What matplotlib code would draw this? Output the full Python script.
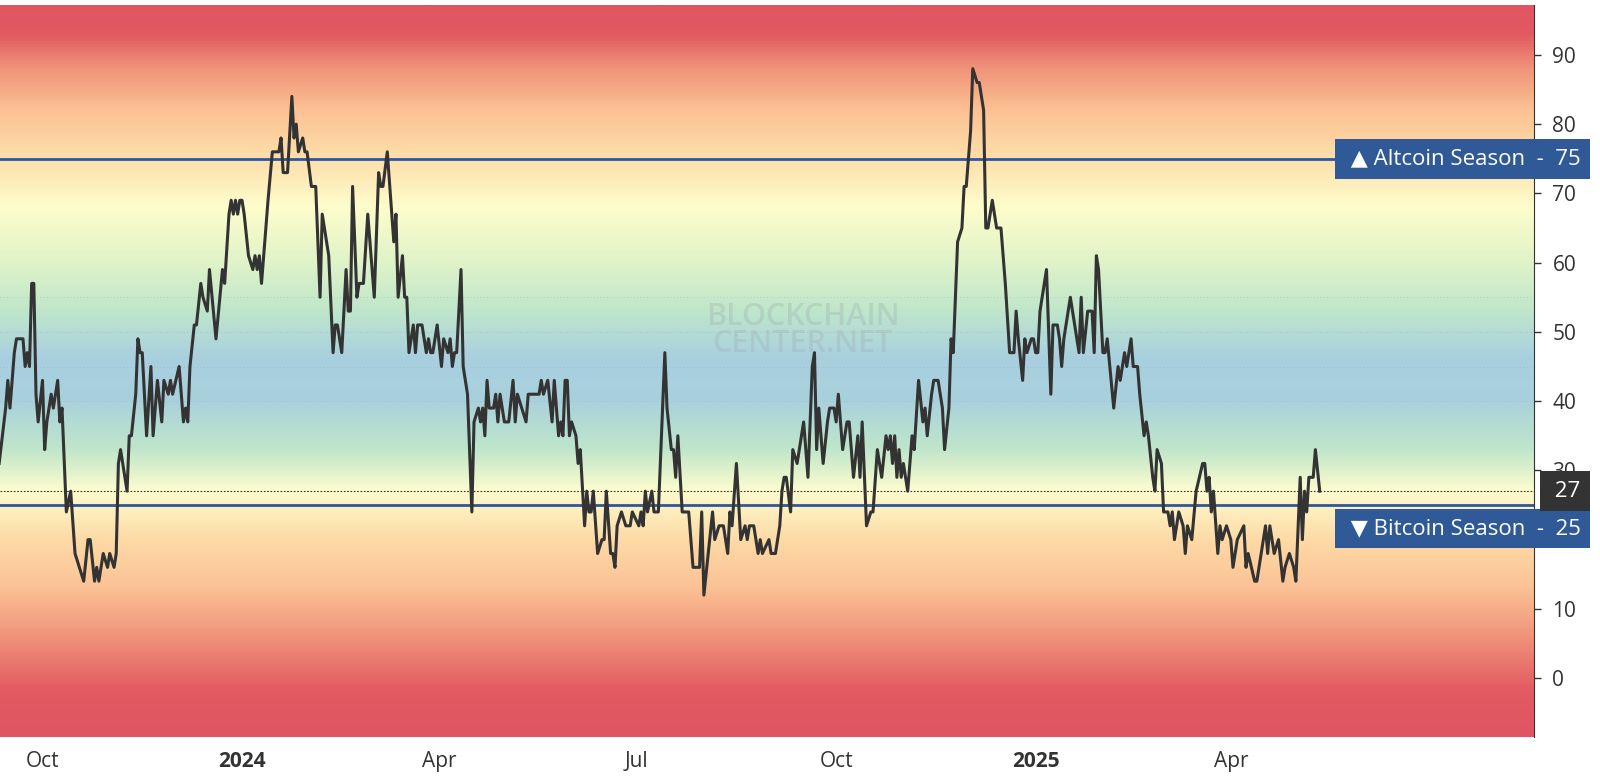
import numpy as np
import pandas as pd
import matplotlib
matplotlib.use('Agg')
import matplotlib.pyplot as plt
import matplotlib.dates as mdates
from matplotlib.colors import LinearSegmentedColormap
from matplotlib.transforms import blended_transform_factory

plt.rcParams['font.family'] = ['Open Sans', 'DejaVu Sans']

# Altcoin season index (days since 2024-01-01, value)
day_offsets = [
    -112, -109, -108, -107, -105, -104, -101, -100, -99, -98, -97, -96, -95, -94, -92, -91, -90, -88, -87, -85,
    -84, -83, -81, -79, -77, -75, -73, -71, -70, -68, -67, -66, -64, -62, -61, -59, -58, -57, -56, -54,
    -53, -52, -51, -49, -48, -47, -46, -44, -42, -41, -39, -37, -36, -34, -33, -32, -29, -27, -26, -25,
    -24, -22, -21, -19, -18, -16, -15, -12, -9, -8, -6, -5, -4, -3, -2, -1, 0, 1, 3, 5,
    6, 7, 8, 9, 11, 12, 14, 17, 18, 19, 21, 23, 24, 25, 26, 28, 29, 30, 32, 34,
    36, 37, 38, 40, 42, 43, 44, 46, 48, 49, 50, 51, 53, 54, 56, 58, 61, 63, 64, 65,
    67, 70, 71, 72, 74, 75, 76, 77, 79, 80, 81, 83, 85, 86, 87, 88, 90, 92, 93, 95,
    96, 97, 98, 99, 101, 102, 104, 106, 107, 109, 110, 111, 112, 113, 114, 116, 117, 118, 119, 120,
    121, 123, 125, 126, 127, 129, 131, 132, 137, 138, 139, 141, 143, 144, 146, 147, 148, 149, 150, 151,
    152, 154, 155, 156, 158, 159, 160, 161, 162, 164, 166, 167, 168, 170, 171, 172, 173, 175, 177, 179,
    180, 183, 184, 185, 186, 187, 189, 190, 192, 195, 196, 198, 199, 200, 201, 203, 206, 208, 211, 212,
    213, 215, 217, 218, 220, 222, 224, 225, 226, 228, 230, 232, 233, 234, 236, 238, 239, 240, 243, 244,
    246, 248, 249, 250, 251, 253, 254, 256, 259, 261, 263, 264, 265, 266, 268, 270, 271, 273, 274, 275,
    277, 279, 280, 282, 284, 285, 286, 288, 290, 291, 293, 295, 297, 298, 299, 300, 301, 302, 303, 304,
    305, 307, 309, 310, 312, 314, 315, 316, 318, 319, 321, 323, 324, 326, 327, 328, 329, 330, 332, 333,
    334, 336, 337, 339, 340, 342, 343, 344, 346, 347, 348, 350, 352, 354, 356, 357, 358, 360, 361, 362,
    364, 365, 366, 367, 368, 369, 371, 373, 374, 376, 377, 378, 379, 382, 384, 386, 387, 388, 390, 392,
    393, 394, 395, 397, 398, 399, 402, 404, 405, 406, 407, 408, 410, 411, 413, 414, 416, 417, 418, 420,
    421, 422, 424, 425, 427, 428, 429, 430, 432, 434, 435, 436, 438, 440, 443, 444, 445, 446, 447, 448,
    450, 451, 452, 454, 456, 457, 459, 462, 463, 464, 467, 468, 471, 472, 473, 474, 476, 478, 480, 481,
    483, 485, 486, 488, 489, 490, 491, 492, 494, 495, 497,
]
index_values = [
    31, 39, 43, 39, 47, 49, 49, 45, 47, 45, 57, 57, 41, 37, 43, 33, 37, 41, 39, 43,
    37, 39, 24, 27, 18, 16, 14, 20, 20, 14, 16, 14, 18, 16, 18, 16, 18, 31, 33, 29,
    27, 35, 35, 41, 49, 47, 47, 35, 45, 35, 43, 37, 43, 41, 43, 41, 45, 37, 39, 37,
    45, 51, 51, 57, 55, 53, 59, 49, 59, 57, 67, 69, 67, 69, 67, 69, 69, 67, 61, 59,
    61, 59, 61, 57, 65, 69, 76, 76, 78, 73, 73, 84, 78, 80, 76, 78, 76, 76, 71, 71,
    55, 67, 65, 61, 47, 51, 51, 47, 59, 53, 53, 71, 55, 57, 57, 67, 55, 73, 71, 71,
    76, 63, 67, 55, 61, 55, 55, 47, 51, 47, 51, 51, 47, 49, 47, 47, 51, 45, 49, 47,
    49, 45, 47, 47, 59, 45, 41, 24, 37, 39, 37, 39, 35, 43, 39, 39, 41, 37, 41, 39,
    37, 37, 43, 37, 41, 39, 37, 41, 41, 43, 41, 43, 37, 43, 35, 37, 35, 43, 43, 35,
    37, 35, 31, 33, 22, 27, 24, 24, 27, 18, 20, 20, 27, 18, 18, 16, 22, 24, 22, 22,
    24, 22, 24, 22, 27, 24, 27, 24, 24, 47, 39, 33, 33, 29, 35, 24, 24, 16, 16, 24,
    12, 18, 24, 20, 22, 22, 18, 24, 22, 31, 20, 22, 20, 22, 22, 18, 20, 18, 20, 18,
    18, 22, 27, 29, 29, 24, 33, 31, 37, 29, 45, 47, 33, 39, 31, 37, 39, 39, 37, 41,
    33, 37, 37, 29, 35, 29, 37, 22, 24, 24, 33, 29, 35, 33, 35, 31, 35, 29, 33, 29,
    31, 27, 35, 33, 43, 37, 39, 35, 41, 43, 43, 39, 33, 39, 49, 47, 55, 63, 65, 71,
    71, 79, 88, 86, 86, 82, 65, 65, 69, 67, 65, 65, 57, 47, 47, 53, 49, 43, 49, 47,
    49, 49, 47, 47, 53, 55, 59, 41, 51, 51, 49, 45, 49, 55, 51, 47, 55, 47, 53, 53,
    47, 61, 59, 47, 47, 49, 39, 45, 43, 45, 47, 45, 49, 45, 45, 41, 35, 37, 35, 29,
    27, 33, 31, 24, 24, 22, 24, 20, 24, 22, 18, 22, 20, 27, 31, 31, 27, 29, 24, 27,
    18, 22, 20, 22, 20, 16, 20, 22, 16, 18, 14, 14, 20, 22, 18, 22, 18, 20, 14, 16,
    18, 16, 14, 29, 20, 27, 24, 29, 29, 33, 27,
]

altcoin_level = 75
bitcoin_level = 25
y_ticks = [0, 10, 20, 30, 40, 50, 60, 70, 80, 90]
month_ticks = ['2023-10-01', '2024-01-01', '2024-04-01', '2024-07-01',
               '2024-10-01', '2025-01-01', '2025-04-01']
month_labels = ['Oct', '2024', 'Apr', 'Jul', 'Oct', '2025', 'Apr']

base = pd.Timestamp('2024-01-01')
dates = base + pd.to_timedelta(day_offsets, unit='D')
current = index_values[-1]

fig = plt.figure(figsize=(16, 7.81), dpi=100)
ax = fig.add_axes([0.0, 0.0563, 0.959, 0.9373])

y_lo, y_hi = -8.5, 97.2
x_lo = base + pd.Timedelta(days=-111.6)
x_hi = base + pd.Timedelta(days=596)

# background gradient by value
grad_stops = [
    (-8.5, '#e05561'), (-2, '#e25a62'), (6, '#f0947a'), (13, '#fbc295'),
    (20, '#fedba7'), (27, '#fdfccf'), (33, '#bfe6cb'), (40, '#a9d1dc'),
    (46, '#a8cfdf'), (53, '#bfe6cb'), (60, '#e0f3c8'), (68, '#fdfdcc'),
    (76, '#fedba7'), (82, '#fcc293'), (88, '#f0947a'), (93, '#e25a62'), (97.2, '#e05561'),
]
cmap = LinearSegmentedColormap.from_list(
    'season', [((v - y_lo) / (y_hi - y_lo), c) for v, c in grad_stops])
grad = np.linspace(0, 1, 512).reshape(-1, 1)
ax.imshow(grad, cmap=cmap, aspect='auto', origin='lower',
          extent=[mdates.date2num(x_lo), mdates.date2num(x_hi), y_lo, y_hi], zorder=0)

for lv in [40, 45, 50, 55]:
    ax.axhline(lv, color='#8aa6b0', lw=0.6, ls=(0, (1, 3)), alpha=0.5, zorder=1)

ax.text(0.523, 0.555, 'BLOCKCHAIN\nCENTER.NET', transform=ax.transAxes,
        ha='center', va='center', fontsize=22, fontweight='semibold', color='#9fb0b3',
        alpha=0.35, linespacing=0.85, zorder=1)

ax.axhline(altcoin_level, color='#2d57a0', lw=2, zorder=2)
ax.axhline(bitcoin_level, color='#2d57a0', lw=2, zorder=2)
ax.axhline(current, color='#333333', lw=0.8, ls=(0, (1.5, 1.5)), zorder=2)

ax.plot(dates, index_values, color='#333333', lw=2.2, zorder=3)

ax.set_xlim(x_lo, x_hi)
ax.set_ylim(y_lo, y_hi)

ax.yaxis.tick_right()
ax.set_yticks(y_ticks)
ax.tick_params(axis='y', length=5, width=1, colors='#333333', labelsize=15, pad=8)
ax.set_xticks(pd.to_datetime(month_ticks))
ax.set_xticklabels(month_labels)
ax.tick_params(axis='x', length=0, labelsize=15, colors='#333333', pad=10)
for lbl in ax.get_xticklabels():
    if lbl.get_text() in ('2024', '2025'):
        lbl.set_fontweight('bold')

for side in ['left', 'top', 'bottom']:
    ax.spines[side].set_visible(False)
ax.spines['right'].set_color('#333333')

# right-hand labels
tr = blended_transform_factory(ax.transAxes, ax.transData)
box_right = 1.0 + 46 / 1534
for lv, name, dy in [(altcoin_level, '\u25b2 Altcoin Season', 0),
                     (bitcoin_level, '\u25bc Bitcoin Season', -3.4)]:
    ax.text(box_right, lv + dy, f' {name}  -  {lv}', transform=tr,
            ha='right', va='center', fontsize=16, color='white', clip_on=False, zorder=6,
            bbox=dict(boxstyle='square,pad=0.42', fc='#2f5a97', ec='none'))
ax.text(box_right, current, f' {current}', transform=tr, ha='right', va='center',
        fontsize=16, color='white', clip_on=False, zorder=7,
        bbox=dict(boxstyle='square,pad=0.42', fc='#333333', ec='none'))

fig.savefig('out.png', dpi=100)
